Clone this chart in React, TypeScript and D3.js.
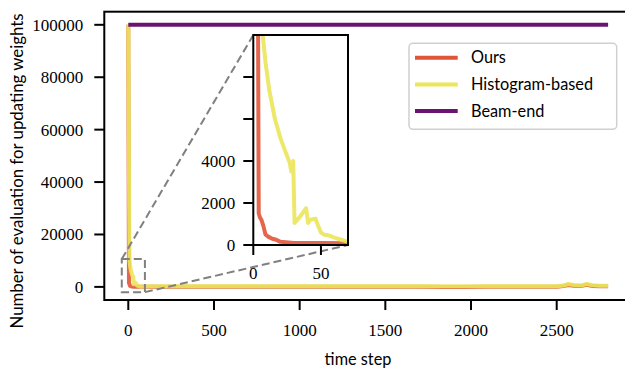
import * as d3 from "d3";

// time steps / values
const oursSteps = [0, 3, 4, 5, 6, 7.5, 9, 11, 14, 17, 20, 30, 50, 70, 150, 300, 500, 800, 1100, 1400, 1700, 1850, 1950, 2100, 2300, 2500, 2540, 2567, 2600, 2640, 2675, 2710, 2750, 2800];
const oursValues = [100000, 20000, 1500, 1300, 1200, 900, 500, 400, 300, 250, 150, 100, 100, 80, 80, 90, 80, 90, 80, 90, 80, -50, -30, 80, 90, 100, 300, 700, 400, 300, 800, 300, 250, 200];

const histSteps = [0, 5, 7, 9, 12, 16, 20, 24, 27, 28, 29.5, 30.5, 34, 39, 40.5, 42, 46, 48, 50, 52, 56, 60, 65, 70, 150, 300, 500, 800, 1100, 1400, 1700, 1850, 1950, 2100, 2300, 2500, 2540, 2567, 2600, 2640, 2675, 2710, 2750, 2800];
const histValues = [100000, 30000, 10000, 8700, 7300, 6000, 5100, 4400, 3900, 3500, 4000, 1050, 1300, 1750, 1050, 1200, 1250, 900, 600, 500, 450, 350, 250, 150, 200, 220, 200, 230, 220, 200, 230, 250, 220, 230, 250, 250, 500, 1100, 700, 500, 1100, 600, 450, 400];

const beamSteps = [0, 2800];
const beamValues = [100000, 100000];

const xTicks = [0, 500, 1000, 1500, 2000, 2500];
const yTicks = [0, 20000, 40000, 60000, 80000, 100000];
const insetXTicks = [0, 50];
const insetYTicks = [0, 2000, 4000, 6000, 8000];
const insetYLabels = ["0", "2000", "4000", "", ""];
const zoomBoxX = [-38, 97];
const zoomBoxY = [-2000, 10600];

const series = [
  { name: "Ours", steps: oursSteps, values: oursValues, color: "#e0553a", opacity: 0.9 },
  { name: "Histogram-based", steps: histSteps, values: histValues, color: "#ebe65a", opacity: 0.9 },
  { name: "Beam-end", steps: beamSteps, values: beamValues, color: "#6a136f", opacity: 1 },
];

const serifFont = "Liberation Serif, DejaVu Serif, serif";
const sansFont = "Lato, DejaVu Sans, sans-serif";

export default function App() {
  const width = 625;
  const height = 371;

  const x = d3.scaleLinear().domain([-140, 2940]).range([104.3, 632.1]);
  const y = d3.scaleLinear().domain([-5000, 105000]).range([300, 11.7]);

  const ix = d3.scaleLinear().domain([0, 70]).range([253.3, 348]);
  const iy = d3.scaleLinear().domain([0, 10000]).range([245, 35]);

  const mainLine = (s: (typeof series)[number]) =>
    d3
      .line<number>()
      .x((_, i) => x(s.steps[i]))
      .y((v) => y(v))(s.values) ?? "";

  const insetLine = (s: (typeof series)[number]) =>
    d3
      .line<number>()
      .x((_, i) => ix(s.steps[i]))
      .y((v) => iy(v))(s.values) ?? "";

  const [x0, x1] = x.range();
  const [y0, y1] = y.range();
  const [ix0, ix1] = ix.range();
  const [iy0, iy1] = iy.range();

  const bx0 = x(zoomBoxX[0]);
  const bx1 = x(zoomBoxX[1]);
  const by0 = y(zoomBoxY[0]);
  const by1 = y(zoomBoxY[1]);

  return (
    <svg width={width} height={height} style={{ display: "block", position: "absolute", left: 0, top: 0 }}>
      <defs>
        <clipPath id="main-clip">
          <rect x={x0} y={y1} width={x1 - x0} height={y0 - y1} />
        </clipPath>
        <clipPath id="inset-clip">
          <rect x={ix0} y={iy1} width={ix1 - ix0} height={iy0 - iy1} />
        </clipPath>
      </defs>
      <rect width={width} height={height} fill="#fff" />

      <g clipPath="url(#main-clip)">
        {series.map((s) => (
          <path
            key={s.name}
            d={mainLine(s)}
            fill="none"
            stroke={s.color}
            strokeOpacity={s.opacity}
            strokeWidth={4}
            strokeLinejoin="round"
          />
        ))}
      </g>

      {/* main spines */}
      <rect x={x0} y={y1} width={x1 - x0} height={y0 - y1} fill="none" stroke="#000" strokeWidth={2} />

      <g fontFamily={serifFont} fontSize={17}>
        {yTicks.map((t) => (
          <g key={t}>
            <line x1={x0 - 10} x2={x0} y1={y(t)} y2={y(t)} stroke="#000" strokeWidth={2} />
            <text x={x0 - 21} y={y(t)} dy="0.35em" textAnchor="end">
              {t}
            </text>
          </g>
        ))}
        {xTicks.map((t) => (
          <g key={t}>
            <line x1={x(t)} x2={x(t)} y1={y0} y2={y0 + 10} stroke="#000" strokeWidth={2} />
            <text x={x(t)} y={y0 + 30} dy="0.35em" textAnchor="middle">
              {t}
            </text>
          </g>
        ))}
      </g>

      <g fontFamily={sansFont}>
        <text x={358} y={359} dy="0.35em" textAnchor="middle" fontSize={16.3}>
          time step
        </text>
        <text transform={`translate(17,171) rotate(-90)`} dy="0.35em" textAnchor="middle" fontSize={16.8}>
          Number of evaluation for updating weights
        </text>
      </g>

      {/* zoom indicator */}
      <rect
        x={bx0}
        y={by1}
        width={bx1 - bx0}
        height={by0 - by1}
        fill="none"
        stroke="#808080"
        strokeWidth={2}
        strokeDasharray="8,4"
      />
      <line x1={bx0} y1={by1} x2={ix0} y2={iy1} stroke="#808080" strokeWidth={2} strokeDasharray="8,4" />
      <line x1={bx1} y1={by0} x2={ix1} y2={iy0} stroke="#808080" strokeWidth={2} strokeDasharray="8,4" />

      {/* inset */}
      <rect x={ix0} y={iy1} width={ix1 - ix0} height={iy0 - iy1} fill="#fff" />
      <g clipPath="url(#inset-clip)">
        {series.map((s) => (
          <path
            key={s.name}
            d={insetLine(s)}
            fill="none"
            stroke={s.color}
            strokeOpacity={s.opacity}
            strokeWidth={4}
            strokeLinejoin="round"
          />
        ))}
      </g>
      <rect x={ix0} y={iy1} width={ix1 - ix0} height={iy0 - iy1} fill="none" stroke="#000" strokeWidth={2} />
      <g fontFamily={serifFont} fontSize={17}>
        {insetYTicks.map((t, i) => (
          <g key={t}>
            <line x1={ix0 - 10} x2={ix0} y1={iy(t)} y2={iy(t)} stroke="#000" strokeWidth={2} />
            <text x={ix0 - 18} y={iy(t)} dy="0.35em" textAnchor="end">
              {insetYLabels[i]}
            </text>
          </g>
        ))}
        {insetXTicks.map((t) => (
          <g key={t}>
            <line x1={ix(t)} x2={ix(t)} y1={iy0} y2={iy0 + 10} stroke="#000" strokeWidth={2} />
            <text x={ix(t)} y={iy0 + 28} dy="0.35em" textAnchor="middle">
              {t}
            </text>
          </g>
        ))}
      </g>

      {/* legend */}
      <rect x={409} y={43.3} width={207.7} height={86} rx={4} fill="#fff" fillOpacity={0.8} stroke="#d0d0d0" strokeWidth={1.5} />
      <g fontFamily={sansFont} fontSize={16.3}>
        {series.map((s, i) => (
          <g key={s.name} transform={`translate(415,${57.7 + i * 26.7})`}>
            <line x1={0} x2={42.7} y1={0} y2={0} stroke={s.color} strokeWidth={4} />
            <text x={56} y={0} dy="0.35em">
              {s.name}
            </text>
          </g>
        ))}
      </g>
    </svg>
  );
}
